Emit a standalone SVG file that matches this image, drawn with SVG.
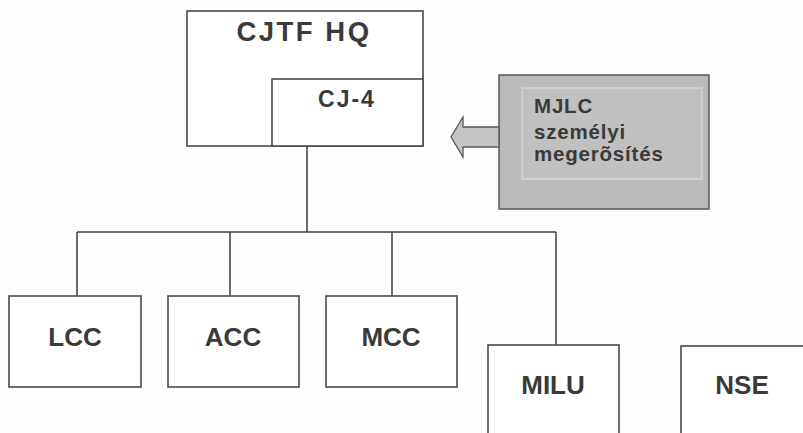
<svg xmlns="http://www.w3.org/2000/svg" width="803" height="433" viewBox="0 0 803 433">
<style>
.box{fill:#fff;stroke:#4a4a4a;stroke-width:1.6}
.ln{fill:none;stroke:#3c3c3c;stroke-width:1.5}
.t{font-family:"Liberation Sans",Arial,sans-serif;font-weight:bold;fill:#3a3a3a;text-anchor:middle}
.g{font-family:"Liberation Sans",Arial,sans-serif;font-weight:bold;fill:#3a3a3a;font-size:20.5px;letter-spacing:0.8px}
</style>
<rect width="803" height="433" fill="#fefefe"/>
<g id="cjtf">
<rect class="box" x="187" y="11" width="236" height="135"/>
<text class="t" x="304" y="41" font-size="27.5" letter-spacing="2.5">CJTF HQ</text>
</g>
<g id="cj4">
<rect class="box" x="272" y="79" width="151" height="67"/>
<text class="t" x="347" y="107" font-size="23" letter-spacing="2">CJ-4</text>
</g>
<g id="mjlc">
<rect x="499" y="75" width="210" height="134" fill="#bababa" stroke="#555" stroke-width="1.5"/>
<rect x="522" y="88" width="180" height="91" fill="#c0c0c0" stroke="#e0e0e0" stroke-width="1"/>
<text class="g" x="534" y="113">MJLC</text>
<text class="g" x="534" y="139">személyi</text>
<text class="g" x="534" y="161">megerõsítés</text>
</g>
<g id="arrow">
<polygon points="451,137 463,117 463,127 499,127 499,147 463,147 463,157" fill="#c4c4c4" stroke="#555" stroke-width="1.3"/>
</g>
<g id="connectors">
<path class="ln" d="M307,146 V232 M77,232 H556 M77,232 V296 M230,232 V296 M392,232 V296 M556,232 V345"/>
</g>
<g id="lcc"><rect class="box" x="9" y="296" width="132" height="91"/><text class="t" x="75" y="346" font-size="26">LCC</text></g>
<g id="acc"><rect class="box" x="168" y="296" width="131" height="91"/><text class="t" x="233" y="346" font-size="26">ACC</text></g>
<g id="mcc"><rect class="box" x="326" y="296" width="131" height="91"/><text class="t" x="391" y="346" font-size="26">MCC</text></g>
<g id="milu"><rect class="box" x="488" y="345" width="131" height="100"/><text class="t" x="553" y="394" font-size="26">MILU</text></g>
<g id="nse"><rect class="box" x="681" y="346" width="140" height="100"/><text class="t" x="742" y="394" font-size="26">NSE</text></g>
</svg>
